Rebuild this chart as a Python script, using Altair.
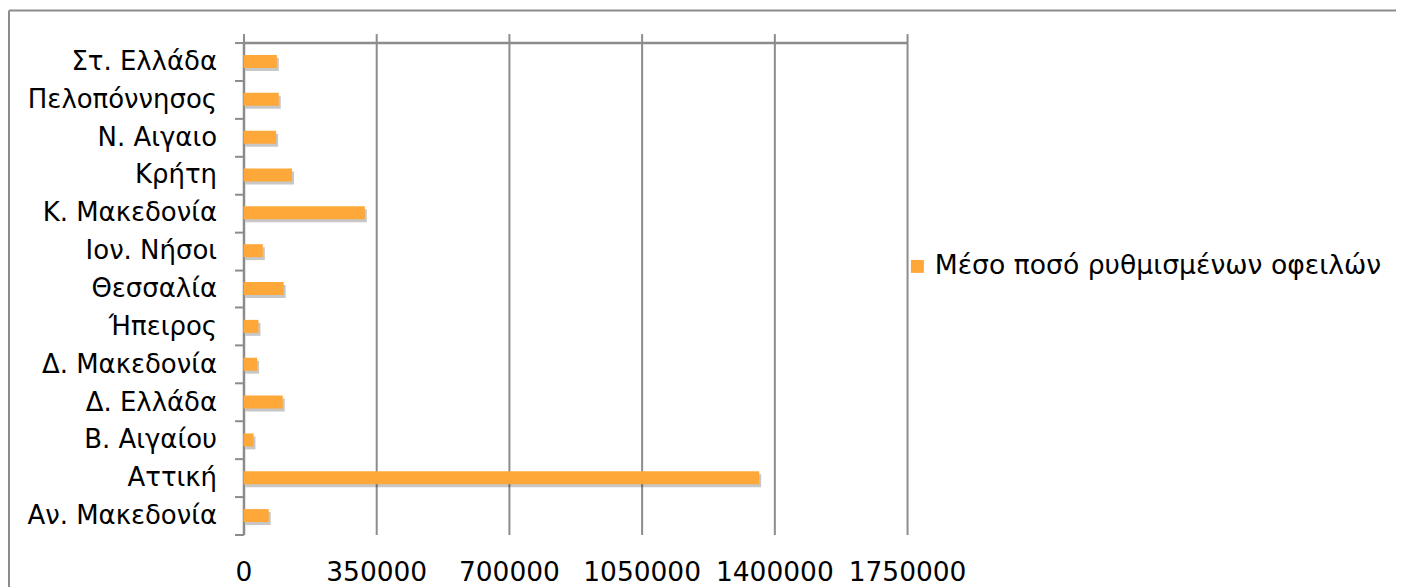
import altair as alt
import pandas as pd

regions = ["Στ. Ελλάδα", "Πελοπόννησος", "Ν. Αιγαιο", "Κρήτη", "Κ. Μακεδονία",
           "Ιον. Νήσοι", "Θεσσαλία", "Ήπειρος", "Δ. Μακεδονία", "Δ. Ελλάδα",
           "Β. Αιγαίου", "Αττική", "Αν. Μακεδονία"]
values = [88000, 93000, 86000, 128000, 320000, 51000, 106000, 39500, 36000,
          103500, 26300, 1360000, 66600]
series_name = "Μέσο ποσό ρυθμισμένων οφειλών"
x_ticks = [0, 350000, 700000, 1050000, 1400000, 1750000]

df = pd.DataFrame({"region": regions, "value": values, "series": series_name})

FONT = "DejaVu Sans"
GRAY = "#8c8c8c"
ORANGE = "#FFA83A"

x_scale = alt.Scale(domain=[0, 1750000], nice=False, zero=True)
y_scale = alt.Scale(paddingInner=0, paddingOuter=0)


def y_axis():
    return alt.Axis(tickBand="extent", domainColor=GRAY, domainWidth=2.5,
                    tickColor=GRAY, tickWidth=2, tickSize=9, labelFont=FONT,
                    labelFontSize=26, labelColor="black", labelPadding=18,
                    grid=False, labelLimit=400, title=None)


base = alt.Chart(df)

shadow = base.mark_bar(size=13, color="#000000", opacity=0.22, xOffset=2, yOffset=3).encode(
    x=alt.X("value:Q", scale=x_scale, title=None,
            axis=alt.Axis(orient="top", values=x_ticks, labels=False, grid=False,
                          domain=True, domainColor=GRAY, domainWidth=2.5,
                          ticks=True, tickSize=9, tickColor=GRAY, tickWidth=2)),
    y=alt.Y("region:N", sort=regions, scale=y_scale, axis=y_axis()),
)

bars = base.mark_bar(size=13).encode(
    x=alt.X("value:Q", scale=x_scale, title=None,
            axis=alt.Axis(orient="bottom", values=x_ticks, format="d", grid=True,
                          gridColor=GRAY, gridWidth=2, domain=False, ticks=False,
                          labelFont=FONT, labelFontSize=26.5, labelColor="black",
                          labelPadding=25, labelFlush=False)),
    y=alt.Y("region:N", sort=regions, scale=y_scale, axis=y_axis()),
    color=alt.Color("series:N", scale=alt.Scale(range=[ORANGE]),
                    legend=alt.Legend(title=None, orient="none", legendX=662, legendY=211,
                                      symbolType="square", symbolSize=169,
                                      labelFont=FONT, labelFontSize=26.7,
                                      labelColor="black", labelOffset=4, padding=0,
                                      symbolStrokeWidth=0, labelLimit=600)),
)

frame = alt.Chart(alt.Data(values=[{"a": 1}]))
left_border = frame.mark_rule(color=GRAY, strokeWidth=2).encode(
    x=alt.value(-235), y=alt.value(-32), y2=alt.value(900))
top_border = frame.mark_rule(color=GRAY, strokeWidth=2).encode(
    x=alt.value(-235), x2=alt.value(1400), y=alt.value(-32))

chart = alt.layer(shadow, bars, left_border, top_border).resolve_axis(
    x="independent"
).properties(
    width=665, height=493,
    autosize=alt.AutoSizeParams(type="none"),
    padding={"left": 236, "top": 34, "right": 490, "bottom": 52},
).configure_view(stroke=None)

chart.save("out.html", embed_options={"renderer": "svg", "actions": False})
